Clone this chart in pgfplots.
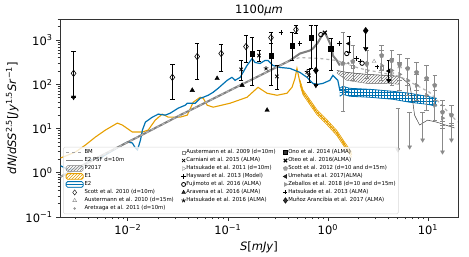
\documentclass[border=0pt]{standalone}
\usepackage{fontspec}
\setmainfont{DejaVu Sans}
\newfontfamily\legfont[FakeStretch=0.97]{DejaVu Sans}
\usepackage{pgfplots}
\pgfplotsset{compat=1.18}
\usetikzlibrary{patterns,plotmarks}
\definecolor{cOr}{HTML}{E69F00}
\definecolor{cBl}{HTML}{0072B2}
\definecolor{cGr}{HTML}{8A8A8A}
\definecolor{cLn}{HTML}{7F7F7F}
\pgfplotsset{
  ebars/.style={
    /pgfplots/error bars/y dir=both,
    /pgfplots/error bars/y explicit,
    /pgfplots/error bars/error bar style={#1, line width=0.5pt, solid},
    /pgfplots/error bars/error mark options={rotate=90, mark size=2.2pt, #1, line width=0.5pt, solid},
  },
  ebarsp/.style={
    /pgfplots/error bars/y dir=plus,
    /pgfplots/error bars/y explicit,
    /pgfplots/error bars/error bar style={#1, line width=0.5pt, solid},
    /pgfplots/error bars/error mark options={rotate=90, mark size=2.2pt, #1, line width=0.5pt, solid},
  },
  ebarsm/.style={
    /pgfplots/error bars/y dir=minus,
    /pgfplots/error bars/y explicit,
    /pgfplots/error bars/error bar style={#1, line width=0.5pt, solid},
    /pgfplots/error bars/error mark options={rotate=90, mark size=2.2pt, #1, line width=0.5pt, solid},
  },
}
\begin{document}
\begin{tikzpicture}
\path[use as bounding box] (-60pt,-40pt) rectangle (409pt,217pt);
\begin{axis}[
  at={(0,0)}, anchor=south west,
  scale only axis, width=398pt, height=198pt,
  xmode=log, ymode=log,
  xmin=0.0021, xmax=20, ymin=0.1, ymax=3000,
  axis line style={black!80, line width=0.7pt},
  tick align=outside, xtick pos=bottom, ytick pos=left,
  major tick length=4pt, minor tick length=2.4pt,
  tick style={black!80, line width=0.6pt},
  xtick={0.01,0.1,1,10},
  xticklabels={10\textsuperscript{−2},10\textsuperscript{−1},10\textsuperscript{0},10\textsuperscript{1}},
  minor xtick={0.003,0.004,0.005,0.006,0.007,0.008,0.009,0.02,0.03,0.04,0.05,0.06,0.07,0.08,0.09,0.2,0.3,0.4,0.5,0.6,0.7,0.8,0.9,2,3,4,5,6,7,8,9},
  ytick={0.1,1,10,100,1000},
  yticklabels={10\textsuperscript{−1},10\textsuperscript{0},10\textsuperscript{1},10\textsuperscript{2},10\textsuperscript{3}},
  minor ytick={0.2,0.3,0.4,0.5,0.6,0.7,0.8,0.9,2,3,4,5,6,7,8,9,20,30,40,50,60,70,80,90,200,300,400,500,600,700,800,900,2000,3000},
  tick label style={font=\fontsize{11.5}{13}\selectfont},
  title={1100\textit{μm}},
  title style={font=\fontsize{11.5}{13}\selectfont, yshift=-6pt},
  xlabel={\textit{S}[\textit{mJy}]},
  ylabel={\textit{dN}/\textit{dSS}\textsuperscript{2.5}[\textit{Jy}\textsuperscript{1.5}\textit{Sr}\textsuperscript{−1}]},
  label style={font=\fontsize{11.5}{13}\selectfont},
  legend columns=3,
  legend cell align=left,
  legend style={at={(0.008,0.354)}, anchor=north west, font=\legfont\fontsize{5.5}{6}\selectfont,
    draw=black!15, fill=white, fill opacity=0.8, draw opacity=1, text opacity=1,
    rounded corners=1.5pt, inner sep=2pt, row sep=1.1pt, nodes={inner sep=0.6pt},
    /tikz/every even column/.append style={column sep=7pt}},
]
% ---------------- E1 (orange)
\addplot[pattern=north east lines, pattern color=cOr, draw=none, forget plot] coordinates {(0.526,126)(0.564,75.2)(0.662,44.8)(0.777,26.7)(0.977,15.9)(1.230,9.01)(1.477,4.85)(1.735,2.89)(1.735,2.23)(1.477,3.74)(1.230,6.96)(0.977,12.3)(0.777,20.6)(0.662,34.6)(0.564,58.1)(0.526,97.5)};
\addplot[cOr, line width=0.6pt, forget plot] coordinates {(0.526,126)(0.564,75.2)(0.662,44.8)(0.777,26.7)(0.977,15.9)(1.230,9.01)(1.477,4.85)(1.735,2.89)};
\addplot[cOr, line width=0.6pt, forget plot] coordinates {(0.526,97.5)(0.564,58.1)(0.662,34.6)(0.777,20.6)(0.977,12.3)(1.230,6.96)(1.477,3.74)(1.735,2.23)};
\addplot[cOr, line width=1.1pt, forget plot] coordinates {(0.00213,2.17)(0.00228,2.29)(0.00301,2.96)(0.00378,4.26)(0.00475,6.44)(0.00598,9.25)(0.00787,13.3)(0.00883,12.0)(0.0111,8.34)(0.0140,8.34)(0.0160,9.25)(0.0188,15.5)(0.0221,21.2)(0.0254,18.1)(0.0334,18.1)(0.0393,20.1)(0.0451,39.4)(0.0530,51.0)(0.0568,48.4)(0.0622,33.7)(0.0713,30.4)(0.1054,37.4)(0.1556,51.0)(0.2004,85.7)(0.2466,62.8)(0.3104,56.6)(0.390,62.8)(0.438,85.7)(0.469,136)(0.491,229)(0.526,111)(0.564,66.1)(0.662,39.4)(0.777,23.5)(0.977,14.0)(1.230,7.92)(1.477,4.26)(1.735,2.54)};
% ---------------- E2 (blue)
\addplot[pattern=grid, pattern color=cBl, draw=none, forget plot] coordinates {(1.317,81.3)(1.411,90.2)(1.656,81.3)(2.62,77.2)(4.45,69.6)(6.57,62.8)(9.71,53.7)(12.2,48.4)(12.2,32.1)(9.71,35.5)(6.57,39.4)(4.45,46.0)(2.62,51.0)(1.656,53.7)(1.411,59.6)(1.317,53.7)};
\addplot[cBl, line width=0.8pt, forget plot] coordinates {(1.317,81.3)(1.411,90.2)(1.656,81.3)(2.62,77.2)(4.45,69.6)(6.57,62.8)(9.71,53.7)(12.2,48.4)};
\addplot[cBl, line width=0.8pt, forget plot] coordinates {(1.317,53.7)(1.411,59.6)(1.656,53.7)(2.62,51.0)(4.45,46.0)(6.57,39.4)(9.71,35.5)(12.2,32.1)};
\addplot[cBl, line width=1.2pt, forget plot] coordinates {(0.00213,1.44)(0.00256,1.17)(0.00337,1.30)(0.00424,1.96)(0.00533,2.17)(0.00671,2.96)(0.00787,3.65)(0.00883,4.26)(0.00991,4.97)(0.0111,4.72)(0.0119,3.65)(0.0125,3.29)(0.0134,5.52)(0.0140,9.25)(0.0150,14.0)(0.0176,18.1)(0.0202,21.2)(0.0237,20.1)(0.0266,22.3)(0.0319,28.9)(0.0375,33.7)(0.0393,37.4)(0.0472,37.4)(0.0530,48.4)(0.0568,51.0)(0.0636,56.6)(0.0713,66.1)(0.0800,81.3)(0.0984,123)(0.110,144)(0.118,123)(0.133,144)(0.1556,267)(0.175,384)(0.187,312)(0.210,296)(0.235,346)(0.252,346)(0.283,267)(0.332,241)(0.418,229)(0.526,186)(0.618,144)(0.709,105)(0.795,100)(0.892,105)(1.047,123)(1.122,159)(1.258,123)(1.317,73.3)(1.411,73.3)(1.656,66.1)};
% ---------------- P2017 band
\addplot[pattern=north east lines, pattern color=black!55, draw=none, forget plot] coordinates {(1.230,206)(1.547,186)(2.45,168)(3.87,159)(5.22,151)(5.22,100)(3.87,105)(2.45,105)(1.547,123)(1.230,180)};
\addplot[black!60, line width=0.3pt, forget plot] coordinates {(1.230,180)(1.547,123)(2.45,105)(3.87,105)(5.22,100)};
\addplot[black!75, line width=0.5pt, forget plot] coordinates {(1.230,206)(1.547,186)(2.45,168)(3.87,159)(5.22,151)(6.57,100)(7.03,43.7)(7.36,20.1)(8.26,12.0)(9.93,15.5)(12.2,14.0)(18.5,10.3)};
% ---------------- E2 PSF and BM
\addplot[cLn, line width=2pt, forget plot] coordinates {(0.00213,0.813)(0.0334,20.1)(0.418,346)(0.526,497)(0.662,581)(0.709,644)(0.795,879)(0.871,1262)(0.933,1475)(1.0,1081)(1.096,678)(1.122,448)(1.230,346)(1.317,267)};
\addplot[black!30, line width=1.2pt, dashed, forget plot] coordinates {(0.00213,0.813)(0.0334,20.1)(0.418,346)(0.526,404)(0.832,384)(1.230,346)(2.08,229)(5.22,151)(10.4,66.1)(19.8,14.0)};
% ---------------- gray observational points
\addplot[only marks, mark=pentagon*, mark size=2.3pt, cGr, ebars=cGr, forget plot] coordinates {
(1.411,296) += (0,1179) -= (0,272)
(1.775,329) += (0,423) -= (0,206)
(2.45,296) += (0,285) -= (0,160)
(3.45,448) += (0,304) -= (0,242)
(4.35,346) += (0,235) -= (0,187)
(5.22,281) += (0,191) -= (0,158)
(6.28,229) += (0,155) -= (0,134)
(7.71,186) += (0,126) -= (0,113)
(9.71,136) += (0,131) -= (0,79)
(11.7,95) += (0,64) -= (0,51)
(14.0,23.5) += (0,20) -= (0,11.5)
(17.2,20.1) += (0,13.6) -= (0,8.1)};
\addplot[only marks, mark=triangle*, mark options={rotate=-90}, mark size=2.3pt, cGr, ebars=cGr, forget plot] coordinates {
(3.45,267) += (0,314) -= (0,144)
(4.35,206) += (0,178) -= (0,111)
(5.22,168) += (0,144) -= (0,95)
(6.28,123) += (0,106) -= (0,66)
(7.71,95) += (0,73) -= (0,51)
(9.71,56.6) += (0,66) -= (0,31)
(11.7,33.7) += (0,40) -= (0,18)
(14.0,17.2) += (0,16.5) -= (0,7)};
\addplot[only marks, mark=triangle*, mark options={rotate=180}, mark size=2.3pt, cGr, ebarsp=cGr, forget plot] coordinates {
(5.0,3.3) += (0,25)
(6.57,3.84) += (0,20)
(8.86,5.52) += (0,18)
(14.0,2.96) += (0,12)
(17.2,5.52) += (0,8)};
\addplot[only marks, mark=triangle, mark options={rotate=-90}, mark size=2.2pt, cGr, forget plot] coordinates {(2.45,200)(4.35,180)};
\addplot[only marks, mark=square, mark size=1.8pt, cGr, forget plot] coordinates {(1.775,250)(3.45,230)};
\addplot[only marks, mark=triangle, mark size=2.2pt, cGr, forget plot] coordinates {(2.9,330)(5.22,250)};
\addplot[only marks, mark=*, mark size=1pt, cGr, forget plot] coordinates {(1.6,300)(2.45,260)(3.45,210)};
% ---------------- black points
\addplot[only marks, mark=diamond, mark size=3.2pt, black, mark options={fill=white, line width=0.6pt}, ebars=black, forget plot] coordinates {
(0.00287,177) += (0,375) -= (0,126)
(0.0279,144) += (0,137) -= (0,98)
(0.0494,426) += (0,408) -= (0,297)
(0.0858,497) += (0,295) -= (0,301)
(0.152,714) += (0,548) -= (0,402)
(0.270,1138) += (0,336) -= (0,734)
(0.480,1722) += (0,398) -= (0,322)};
\addplot[only marks, mark=square*, mark size=2.2pt, black, ebars=black, forget plot] coordinates {
(0.175,497) += (0,641) -= (0,402)
(0.270,448) += (0,386) -= (0,353)
(0.438,752) += (0,722) -= (0,406)
(0.677,1138) += (0,982) -= (0,909)
(1.071,644) += (0,437) -= (0,438)};
\addplot[only marks, mark=x, mark size=2.4pt, black, mark options={line width=0.8pt}, ebars=black, forget plot] coordinates {
(0.136,217) += (0,129) -= (0,94)
(0.205,448) += (0,150) -= (0,120)
(0.310,151) += (0,116) -= (0,74)
(0.647,159) += (0,60) -= (0,50)};
\addplot[only marks, mark=x, mark size=2.8pt, black, mark options={line width=1.1pt}, forget plot] coordinates {(0.933,1474)};
\addplot[only marks, mark=triangle*, mark size=2.6pt, black, forget plot] coordinates {(0.0441,73.3)(0.0782,136)(0.139,95)(0.247,26.0)};
\addplot[only marks, mark=diamond*, mark size=3.3pt, black, ebars=black, forget plot] coordinates {
(0.759,206) += (0,1914) -= (0,111)};
\addplot[only marks, mark=diamond*, mark size=3.3pt, black, ebarsm=black, forget plot] coordinates {
(2.39,1635) -= (0,991)};
\addplot[only marks, mark=triangle*, mark options={rotate=90}, mark size=2.4pt, black, ebars=black, forget plot] coordinates {
(1.619,834) += (0,400) -= (0,300)
(4.06,200) += (0,146) -= (0,77)};
\addplot[only marks, mark=triangle*, mark options={rotate=180}, mark size=2.6pt, black, forget plot] coordinates {(0.00287,51)(0.759,95)(2.39,644)(4.06,123)};
\addplot[only marks, mark=+, mark size=2.4pt, black, mark options={line width=0.9pt}, forget plot] coordinates {(0.340,1475)(0.526,834)(1.317,834)(1.95,384)};
\addplot[only marks, mark=+, mark size=2pt, black, mark options={line width=0.5pt}, forget plot] coordinates {(2.1,330)(3.1,250)};
\addplot[only marks, mark=o, mark size=2.2pt, black, mark options={line width=0.8pt}, forget plot] coordinates {(0.851,1330)(1.547,497)(2.2,300)};
\addplot[only marks, mark=star, mark size=2.4pt, black, mark options={line width=0.7pt}, forget plot] coordinates {(0.241,229)(0.62,190)};
% ---------------- legend (row-wise, 3 columns)
\addlegendimage{black!35, dashed, line width=1.2pt}\addlegendentry{BM}
\addlegendimage{only marks, mark=square, mark size=1.8pt, cGr}\addlegendentry{Austermann et al. 2009 (d=10m)}
\addlegendimage{only marks, mark=square*, mark size=2pt, black}\addlegendentry{Ono et al. 2014 (ALMA)}
\addlegendimage{cLn, line width=1.5pt}\addlegendentry{E2 PSF d=10m}
\addlegendimage{only marks, mark=x, mark size=2.2pt, black, mark options={line width=0.7pt}}\addlegendentry{Carniani et al. 2015 (ALMA)}
\addlegendimage{only marks, mark=x, mark size=2.4pt, black, mark options={line width=1.1pt}}\addlegendentry{Oteo et al. 2016(ALMA)}
\addlegendimage{area legend, draw=black!50, pattern=north east lines, pattern color=black!50}\addlegendentry{P2017}
\addlegendimage{only marks, mark=triangle, mark options={rotate=-90}, mark size=2.2pt, cGr}\addlegendentry{Hatsukade et al. 2011 (d=10m)}
\addlegendimage{only marks, mark=pentagon*, mark size=2.2pt, cGr}\addlegendentry{Scott et al. 2012 (d=10 and d=15m)}
\addlegendimage{area legend, draw=cOr, line width=0.8pt, pattern=north east lines, pattern color=cOr}\addlegendentry{E1}
\addlegendimage{only marks, mark=+, mark size=2.2pt, black, mark options={line width=0.9pt}}\addlegendentry{Hayward et al. 2013 (Model)}
\addlegendimage{only marks, mark=triangle*, mark options={rotate=90}, mark size=2.2pt, black}\addlegendentry{Umehata et al. 2017(ALMA)}
\addlegendimage{area legend, draw=cBl, line width=0.8pt, pattern=horizontal lines, pattern color=cBl}\addlegendentry{E2}
\addlegendimage{only marks, mark=o, mark size=2pt, black, mark options={line width=0.8pt}}\addlegendentry{Fujimoto et al. 2016 (ALMA)}
\addlegendimage{only marks, mark=triangle*, mark options={rotate=-90}, mark size=2.2pt, cGr}\addlegendentry{Zeballos et al. 2018 (d=10 and d=15m)}
\addlegendimage{only marks, mark=diamond, mark size=2.6pt, black}\addlegendentry{Scott et al. 2010 (d=10m)}
\addlegendimage{only marks, mark=triangle*, mark size=2.2pt, black}\addlegendentry{Aravena et al. 2016 (ALMA)}
\addlegendimage{only marks, mark=+, mark size=2pt, black, mark options={line width=0.5pt}}\addlegendentry{Hatsukade et al. 2013 (ALMA)}
\addlegendimage{only marks, mark=triangle, mark size=2.2pt, cGr}\addlegendentry{Austermann et al. 2010 (d=15m)}
\addlegendimage{only marks, mark=star, mark size=2.2pt, black, mark options={line width=0.7pt}}\addlegendentry{Hatsukade et al. 2016 (ALMA)}
\addlegendimage{only marks, mark=diamond*, mark size=2.8pt, black}\addlegendentry{Muñoz Arancibia et al. 2017 (ALMA)}
\addlegendimage{only marks, mark=*, mark size=1pt, cGr}\addlegendentry{Aretxaga et al. 2011 (d=10m)}
\end{axis}
\end{tikzpicture}
\end{document}
